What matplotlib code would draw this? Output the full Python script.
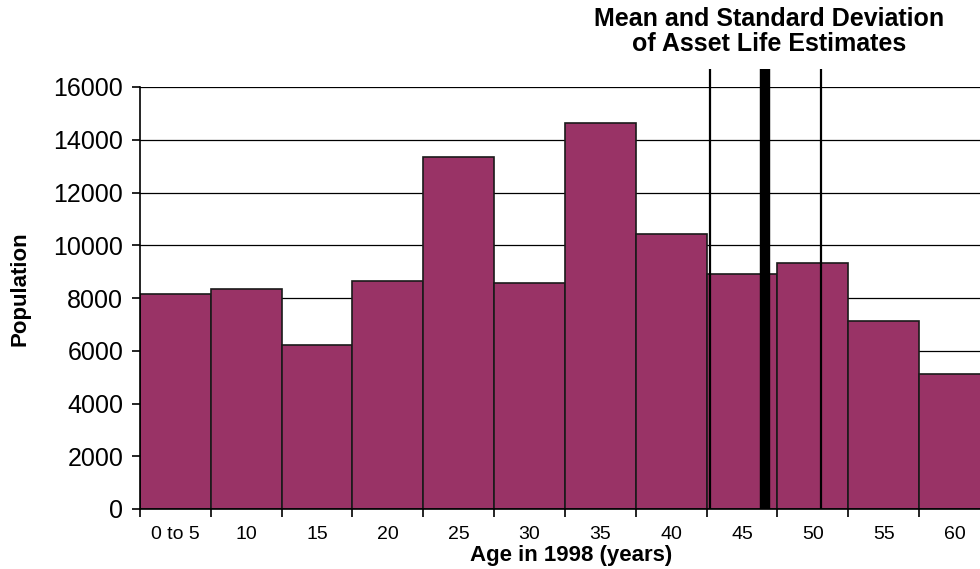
import matplotlib
matplotlib.use("Agg")
import matplotlib.pyplot as plt

plt.rcParams['font.family'] = ['Liberation Sans', 'DejaVu Sans']

# Age bins (years), 5-year wide, labelled by upper bound
tick_labels = ["0 to 5", "10", "15", "20", "25", "30", "35", "40", "45", "50", "55", "60"]
bin_starts = [0, 5, 10, 15, 20, 25, 30, 35, 40, 45, 50, 55]
population = [8150, 8340, 6220, 8640, 13350, 8570, 14630, 10430, 8910, 9330, 7130, 5120]

# Asset life estimates (years)
life_mean = 44.15
life_sd = 3.9

fig = plt.figure(figsize=(9.8, 5.69), dpi=100)
ax = fig.add_axes([140 / 980, 1 - 509 / 569, 1 - 140 / 980, (509 - 87) / 569])

bin_width = 5
ax.bar(bin_starts, population, width=bin_width, align="edge",
       color="#993366", edgecolor="#1a1a1a", linewidth=1.2, zorder=2)

ax.set_xlim(0, 59.3)
ax.set_ylim(0, 16000)
ax.set_yticks(range(0, 16001, 2000))
ax.yaxis.grid(True, color="black", linewidth=0.9, zorder=0)
ax.set_axisbelow(True)

centers = [s + bin_width / 2 for s in bin_starts]
ax.set_xticks(centers)
ax.set_xticklabels(tick_labels, fontsize=14)
ax.set_xticks(bin_starts, minor=True)
ax.tick_params(axis="x", which="major", length=0, pad=12)
ax.tick_params(axis="x", which="minor", length=6, width=1.2, direction="out")
ax.tick_params(axis="y", length=6, width=1.2, labelsize=18, pad=6)

for side in ("top", "right"):
    ax.spines[side].set_visible(False)
for side in ("left", "bottom"):
    ax.spines[side].set_linewidth(1.2)

# Mean and +/- one standard deviation
top = 16680
ax.vlines([life_mean - life_sd, life_mean + life_sd], 0, top,
          colors="black", linewidth=1.6, zorder=4, clip_on=False)
ax.vlines([life_mean], 0, top, colors="black", linewidth=7.5, zorder=4, clip_on=False)

fig.text(769 / 980, 1 - 7 / 569, "Mean and Standard Deviation\nof Asset Life Estimates",
         ha="center", va="top", fontsize=18, fontweight="bold", linespacing=1.05)

fig.text(20 / 980, 1 - 289 / 569, "Population", rotation=90, ha="center", va="center",
         fontsize=16, fontweight="bold")
fig.text(571 / 980, 1 - 555 / 569, "Age in 1998 (years)", ha="center", va="center",
         fontsize=16, fontweight="bold")

fig.savefig("out.png", dpi=100)
